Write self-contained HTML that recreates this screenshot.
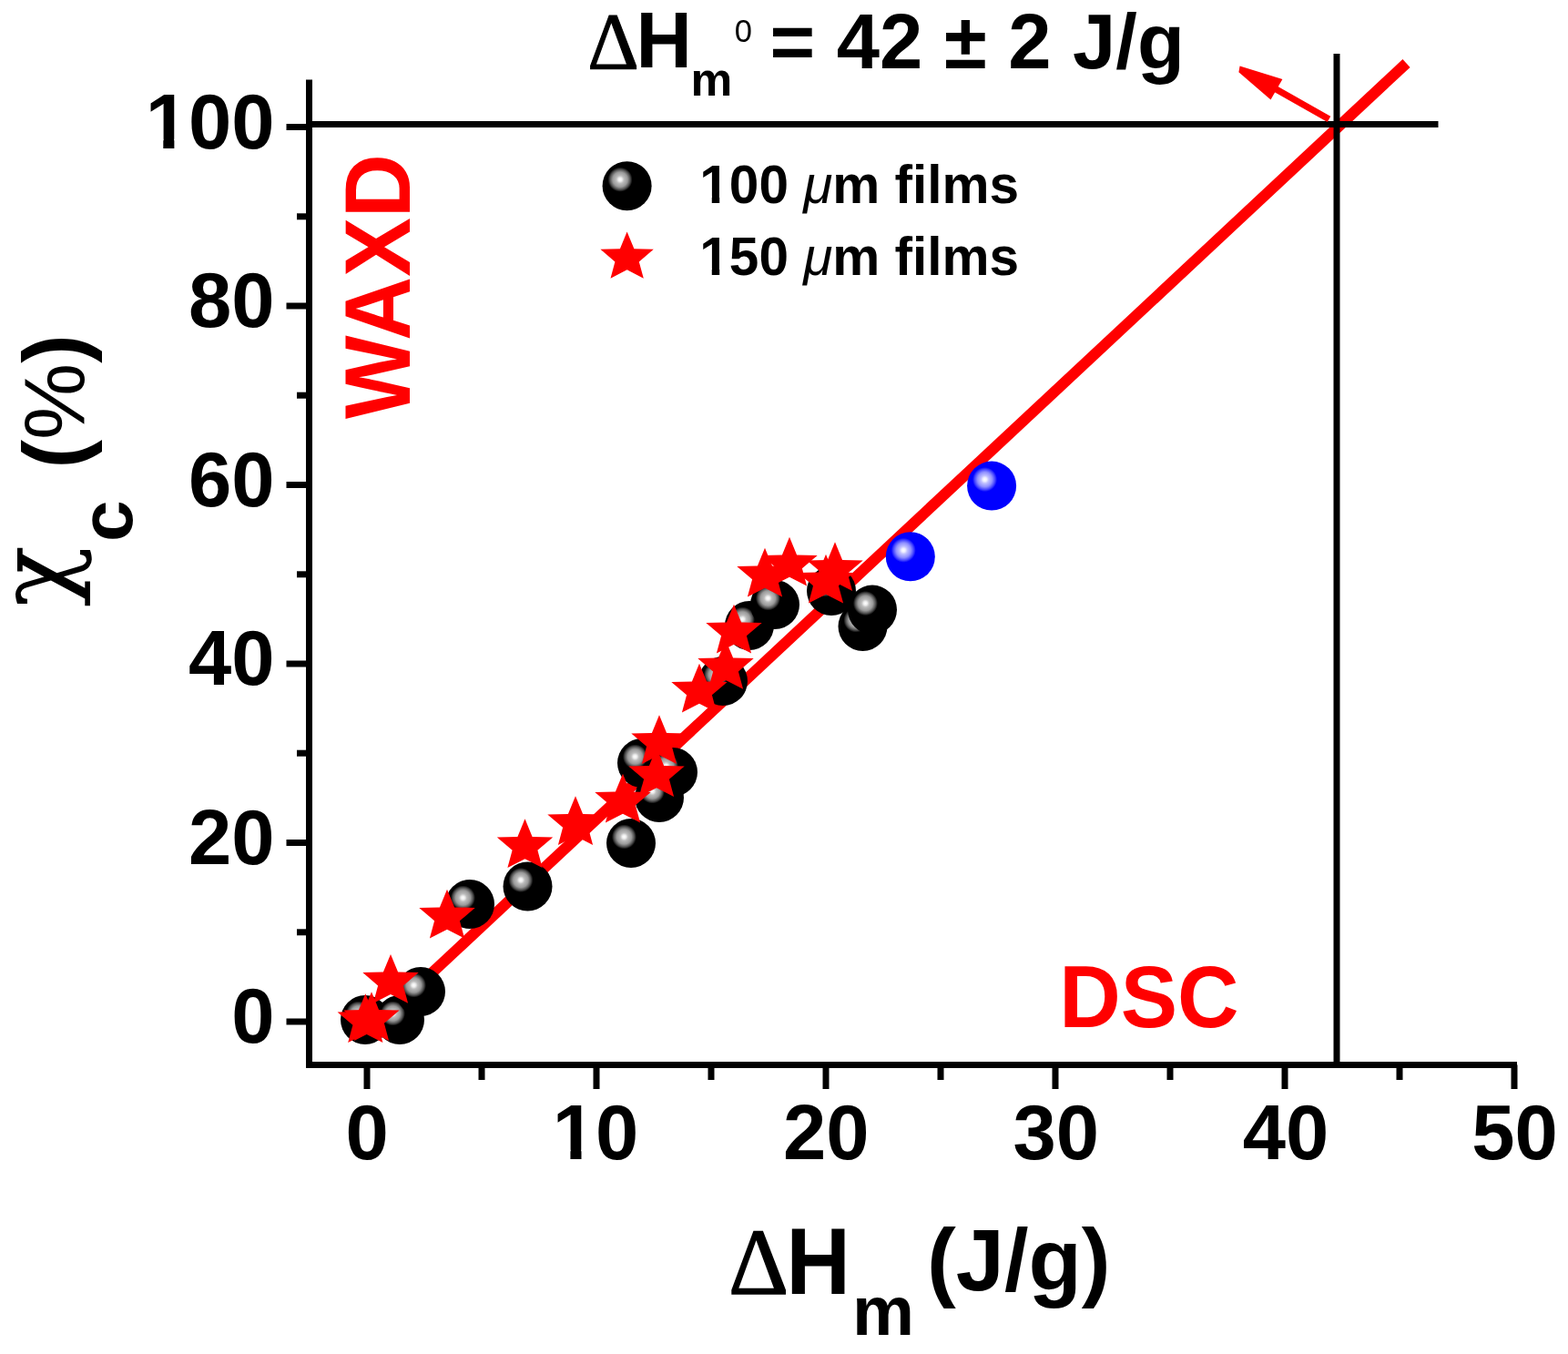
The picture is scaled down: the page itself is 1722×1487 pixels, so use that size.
<!DOCTYPE html>
<html><head><meta charset="utf-8"><title>plot</title><style>html,body{margin:0;padding:0;background:#fff;overflow:hidden}svg{display:block}</style></head><body>
<svg width="1722" height="1487" viewBox="0 0 1722 1487">
<defs>
<radialGradient id="gk" cx="0.36" cy="0.37" r="0.25" fx="0.36" fy="0.37">
<stop offset="0" stop-color="#ffffff"/><stop offset="0.15" stop-color="#eeeeee"/><stop offset="0.32" stop-color="#bcbcbc"/><stop offset="0.6" stop-color="#9a9a9a"/><stop offset="0.82" stop-color="#505050"/><stop offset="1" stop-color="#000000"/></radialGradient>
<radialGradient id="gb" cx="0.36" cy="0.37" r="0.25" fx="0.36" fy="0.37">
<stop offset="0" stop-color="#ffffff"/><stop offset="0.15" stop-color="#f0f0ff"/><stop offset="0.32" stop-color="#c0c0ff"/><stop offset="0.6" stop-color="#9090ff"/><stop offset="0.82" stop-color="#4848ff"/><stop offset="1" stop-color="#0000ff"/></radialGradient>
</defs>
<rect width="1722" height="1487" fill="#fff"/>
<g stroke="#000" stroke-width="7" fill="none">
<line x1="339.5" y1="87.5" x2="339.5" y2="1172.8"/>
<line x1="336.2" y1="1169.5" x2="1666" y2="1169.5"/>
<line x1="314.5" y1="1122.0" x2="339.5" y2="1122.0"/>
<line x1="326" y1="1023.8" x2="339.5" y2="1023.8"/>
<line x1="314.5" y1="925.5" x2="339.5" y2="925.5"/>
<line x1="326" y1="827.2" x2="339.5" y2="827.2"/>
<line x1="314.5" y1="729.0" x2="339.5" y2="729.0"/>
<line x1="326" y1="630.8" x2="339.5" y2="630.8"/>
<line x1="314.5" y1="532.5" x2="339.5" y2="532.5"/>
<line x1="326" y1="434.2" x2="339.5" y2="434.2"/>
<line x1="314.5" y1="336.0" x2="339.5" y2="336.0"/>
<line x1="326" y1="237.8" x2="339.5" y2="237.8"/>
<line x1="314.5" y1="139.5" x2="339.5" y2="139.5"/>
<line x1="403.0" y1="1169.5" x2="403.0" y2="1196"/>
<line x1="529.0" y1="1169.5" x2="529.0" y2="1186"/>
<line x1="655.0" y1="1169.5" x2="655.0" y2="1196"/>
<line x1="781.0" y1="1169.5" x2="781.0" y2="1186"/>
<line x1="907.0" y1="1169.5" x2="907.0" y2="1196"/>
<line x1="1033.0" y1="1169.5" x2="1033.0" y2="1186"/>
<line x1="1159.0" y1="1169.5" x2="1159.0" y2="1196"/>
<line x1="1285.0" y1="1169.5" x2="1285.0" y2="1186"/>
<line x1="1411.0" y1="1169.5" x2="1411.0" y2="1196"/>
<line x1="1537.0" y1="1169.5" x2="1537.0" y2="1186"/>
<line x1="1663.0" y1="1169.5" x2="1663.0" y2="1196"/>
</g>
<text x="254.21" y="1145.40" style="font-family:'Liberation Sans',Arial,sans-serif;font-weight:bold;font-style:normal;font-size:85px" fill="#000">0</text>
<text x="206.94" y="948.90" style="font-family:'Liberation Sans',Arial,sans-serif;font-weight:bold;font-style:normal;font-size:85px" fill="#000">20</text>
<text x="206.94" y="752.40" style="font-family:'Liberation Sans',Arial,sans-serif;font-weight:bold;font-style:normal;font-size:85px" fill="#000">40</text>
<text x="206.94" y="555.90" style="font-family:'Liberation Sans',Arial,sans-serif;font-weight:bold;font-style:normal;font-size:85px" fill="#000">60</text>
<text x="206.94" y="359.40" style="font-family:'Liberation Sans',Arial,sans-serif;font-weight:bold;font-style:normal;font-size:85px" fill="#000">80</text>
<text x="159.67" y="162.90" style="font-family:'Liberation Sans',Arial,sans-serif;font-weight:bold;font-style:normal;font-size:85px" fill="#000">100</text>
<text x="379.43" y="1273.00" style="font-family:'Liberation Sans',Arial,sans-serif;font-weight:bold;font-style:normal;font-size:85px" fill="#000">0</text>
<text x="606.79" y="1273.00" style="font-family:'Liberation Sans',Arial,sans-serif;font-weight:bold;font-style:normal;font-size:85px" fill="#000">10</text>
<text x="860.00" y="1273.00" style="font-family:'Liberation Sans',Arial,sans-serif;font-weight:bold;font-style:normal;font-size:85px" fill="#000">20</text>
<text x="1112.49" y="1273.00" style="font-family:'Liberation Sans',Arial,sans-serif;font-weight:bold;font-style:normal;font-size:85px" fill="#000">30</text>
<text x="1364.83" y="1273.00" style="font-family:'Liberation Sans',Arial,sans-serif;font-weight:bold;font-style:normal;font-size:85px" fill="#000">40</text>
<text x="1616.16" y="1273.00" style="font-family:'Liberation Sans',Arial,sans-serif;font-weight:bold;font-style:normal;font-size:85px" fill="#000">50</text>
<line x1="400" y1="1137.8" x2="1544.5" y2="69.5" stroke="#ff0000" stroke-width="12"/>
<g stroke="#000" stroke-width="7"><line x1="339.5" y1="136.6" x2="1579.5" y2="136.6"/><line x1="1468" y1="58.9" x2="1468" y2="1169.5"/></g>
<line x1="1459.5" y1="130.8" x2="1399" y2="96.6" stroke="#ff0000" stroke-width="7.2"/>
<polygon points="1361.6,72.6 1408.4,87.0 1395.5,109.4 1360.4,79.2" fill="#ff0000"/>
<circle cx="401" cy="1120" r="27" fill="url(#gk)"/>
<circle cx="439" cy="1120" r="27" fill="url(#gk)"/>
<circle cx="462" cy="1089" r="27" fill="url(#gk)"/>
<circle cx="516" cy="993" r="27" fill="url(#gk)"/>
<circle cx="579.5" cy="973.5" r="27" fill="url(#gk)"/>
<circle cx="693" cy="926" r="27" fill="url(#gk)"/>
<circle cx="705" cy="838" r="27" fill="url(#gk)"/>
<circle cx="739" cy="848" r="27" fill="url(#gk)"/>
<circle cx="724" cy="876" r="27" fill="url(#gk)"/>
<circle cx="794" cy="748" r="27" fill="url(#gk)"/>
<circle cx="823" cy="687" r="27" fill="url(#gk)"/>
<circle cx="851" cy="664" r="27" fill="url(#gk)"/>
<circle cx="913" cy="649" r="27" fill="url(#gk)"/>
<circle cx="947.5" cy="688" r="27" fill="url(#gk)"/>
<circle cx="958" cy="669.6" r="27" fill="url(#gk)"/>
<polygon points="401.3,1091.2 409.4,1110.9 432.0,1111.4 415.2,1125.8 420.4,1145.0 401.3,1135.2 382.2,1145.0 387.4,1125.8 370.6,1111.4 393.2,1110.9" fill="#ff0000"/>
<polygon points="408.0,1089.2 416.1,1108.9 438.7,1109.4 421.9,1123.8 427.1,1143.0 408.0,1133.2 388.9,1143.0 394.1,1123.8 377.3,1109.4 399.9,1108.9" fill="#ff0000"/>
<polygon points="429.0,1047.9 437.1,1067.6 459.7,1068.1 442.9,1082.5 448.1,1101.7 429.0,1091.9 409.9,1101.7 415.1,1082.5 398.3,1068.1 420.9,1067.6" fill="#ff0000"/>
<polygon points="491.0,976.7 499.1,996.4 521.7,996.9 504.9,1011.3 510.1,1030.5 491.0,1020.7 471.9,1030.5 477.1,1011.3 460.3,996.9 482.9,996.4" fill="#ff0000"/>
<polygon points="576.5,899.2 584.6,918.9 607.2,919.4 590.4,933.8 595.6,953.0 576.5,943.2 557.4,953.0 562.6,933.8 545.8,919.4 568.4,918.9" fill="#ff0000"/>
<polygon points="632.0,874.2 640.1,893.9 662.7,894.4 645.9,908.8 651.1,928.0 632.0,918.2 612.9,928.0 618.1,908.8 601.3,894.4 623.9,893.9" fill="#ff0000"/>
<polygon points="684.0,849.7 692.1,869.4 714.7,869.9 697.9,884.3 703.1,903.5 684.0,893.7 664.9,903.5 670.1,884.3 653.3,869.9 675.9,869.4" fill="#ff0000"/>
<polygon points="724.0,785.2 732.1,804.9 754.7,805.4 737.9,819.8 743.1,839.0 724.0,829.2 704.9,839.0 710.1,819.8 693.3,805.4 715.9,804.9" fill="#ff0000"/>
<polygon points="721.0,821.2 729.1,840.9 751.7,841.4 734.9,855.8 740.1,875.0 721.0,865.2 701.9,875.0 707.1,855.8 690.3,841.4 712.9,840.9" fill="#ff0000"/>
<polygon points="768.0,728.7 776.1,748.4 798.7,748.9 781.9,763.3 787.1,782.5 768.0,772.7 748.9,782.5 754.1,763.3 737.3,748.9 759.9,748.4" fill="#ff0000"/>
<polygon points="797.0,702.9 805.1,722.6 827.7,723.1 810.9,737.5 816.1,756.7 797.0,746.9 777.9,756.7 783.1,737.5 766.3,723.1 788.9,722.6" fill="#ff0000"/>
<polygon points="806.0,663.7 814.1,683.4 836.7,683.9 819.9,698.3 825.1,717.5 806.0,707.7 786.9,717.5 792.1,698.3 775.3,683.9 797.9,683.4" fill="#ff0000"/>
<polygon points="840.0,601.7 848.1,621.4 870.7,621.9 853.9,636.3 859.1,655.5 840.0,645.7 820.9,655.5 826.1,636.3 809.3,621.9 831.9,621.4" fill="#ff0000"/>
<polygon points="867.0,589.7 875.1,609.4 897.7,609.9 880.9,624.3 886.1,643.5 867.0,633.7 847.9,643.5 853.1,624.3 836.3,609.9 858.9,609.4" fill="#ff0000"/>
<polygon points="917.0,595.2 925.1,614.9 947.7,615.4 930.9,629.8 936.1,649.0 917.0,639.2 897.9,649.0 903.1,629.8 886.3,615.4 908.9,614.9" fill="#ff0000"/>
<polygon points="907.0,608.7 915.1,628.4 937.7,628.9 920.9,643.3 926.1,662.5 907.0,652.7 887.9,662.5 893.1,643.3 876.3,628.9 898.9,628.4" fill="#ff0000"/>
<circle cx="999.8" cy="611.3" r="27" fill="url(#gb)"/>
<circle cx="1089.1" cy="533.6" r="27" fill="url(#gb)"/>
<circle cx="688.6" cy="204.2" r="27" fill="url(#gk)"/>
<polygon points="688.6,254.4 696.4,273.2 717.8,273.7 701.8,287.4 706.8,305.7 688.6,296.3 670.5,305.7 675.4,287.4 659.4,273.7 680.9,273.2" fill="#ff0000"/>
<text x="768.32" y="222.6" style="font-family:'Liberation Sans',Arial,sans-serif;font-weight:bold;font-size:58.5px" fill="#000">100 <tspan style="font-weight:normal;font-style:italic">μ</tspan>m films</text>
<text x="768.32" y="302.4" style="font-family:'Liberation Sans',Arial,sans-serif;font-weight:bold;font-size:58.5px" fill="#000">150 <tspan style="font-weight:normal;font-style:italic">μ</tspan>m films</text>
<g transform="rotate(-90)">
<text transform="translate(-460.09,449.60) scale(1,1.05)" x="0" y="0" style="font-family:'Liberation Sans',Arial,sans-serif;font-weight:bold;font-style:normal;font-size:97px" fill="#ff0000">WAXD</text>
</g>
<text transform="translate(1163.15,1127.50) scale(1,1.03)" x="0" y="0" style="font-family:'Liberation Sans',Arial,sans-serif;font-weight:bold;font-style:normal;font-size:93.5px" fill="#ff0000">DSC</text>
<text x="645.35" y="74.90" style="font-family:'Liberation Serif','Times New Roman',serif;font-weight:normal;font-style:normal;font-size:88px" fill="#000" stroke="#000" stroke-width="1.1">Δ</text>
<text transform="translate(698.41,74.40) scale(1,1.035)" x="0" y="0" style="font-family:'Liberation Sans',Arial,sans-serif;font-weight:bold;font-style:normal;font-size:85px" fill="#000">H</text>
<text x="758.61" y="104.50" style="font-family:'Liberation Sans',Arial,sans-serif;font-weight:bold;font-style:normal;font-size:51.5px" fill="#000">m</text>
<text x="806.75" y="46.00" style="font-family:'Liberation Sans',Arial,sans-serif;font-weight:normal;font-style:normal;font-size:34.5px" fill="#000">0</text>
<text x="845.47" y="74.60" style="font-family:'Liberation Sans',Arial,sans-serif;font-weight:bold;font-style:normal;font-size:85px" fill="#000">= 42 ± 2 J/g</text>
<text x="799.98" y="1420.60" style="font-family:'Liberation Serif','Times New Roman',serif;font-weight:normal;font-style:normal;font-size:103px" fill="#000" stroke="#000" stroke-width="1.3">Δ</text>
<text transform="translate(863.14,1420.60) scale(1,1.05)" x="0" y="0" style="font-family:'Liberation Sans',Arial,sans-serif;font-weight:bold;font-style:normal;font-size:98px" fill="#000">H</text>
<text x="936.06" y="1466.30" style="font-family:'Liberation Sans',Arial,sans-serif;font-weight:bold;font-style:normal;font-size:76.5px" fill="#000">m</text>
<text x="1018.04" y="1417.20" style="font-family:'Liberation Sans',Arial,sans-serif;font-weight:bold;font-style:normal;font-size:95.5px" fill="#000">(J/g)</text>
<g transform="rotate(-90)">
<text x="-666.45" y="76.00" style="font-family:'DejaVu Serif',serif;font-weight:normal;font-style:normal;font-size:111px" fill="#000">χ</text>
<text x="-595.00" y="145.20" style="font-family:'Liberation Sans',Arial,sans-serif;font-weight:bold;font-style:normal;font-size:82px" fill="#000">c</text>
<text x="-514.41" y="92.1" style="font-family:'Liberation Sans',Arial,sans-serif;font-weight:bold;font-size:94.6px" fill="#000">(<tspan style="font-weight:normal">%</tspan>)</text>
</g>
<rect x="163.86" y="152.73" width="15.45" height="11.67" fill="#fff"/>
<rect x="191.37" y="152.73" width="14.37" height="11.67" fill="#fff"/>
<rect x="610.98" y="1262.83" width="15.45" height="11.67" fill="#fff"/>
<rect x="638.49" y="1262.83" width="14.37" height="11.67" fill="#fff"/>
<rect x="770.89" y="215.13" width="10.88" height="8.97" fill="#fff"/>
<rect x="790.20" y="215.13" width="10.14" height="8.97" fill="#fff"/>
<rect x="770.89" y="294.93" width="10.88" height="8.97" fill="#fff"/>
<rect x="790.20" y="294.93" width="10.14" height="8.97" fill="#fff"/>
</svg>
</body></html>
